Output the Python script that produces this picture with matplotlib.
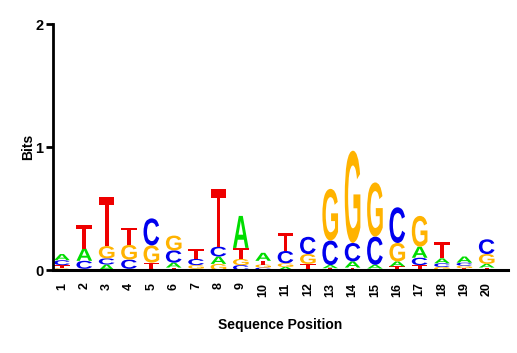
import matplotlib
matplotlib.use("Agg")
import matplotlib.pyplot as plt
from matplotlib.textpath import TextPath
from matplotlib.patches import PathPatch
from matplotlib.font_manager import FontProperties
from matplotlib.transforms import Affine2D

positions = list(range(1, 21))
heights_A = [0.05, 0.10, 0.045, 0.01, 0.01, 0.04, 0.01, 0.06, 0.26, 0.065,
             0.025, 0.01, 0.025, 0.05, 0.03, 0.04, 0.09, 0.04, 0.05, 0.03]
heights_C = [0.04, 0.065, 0.05, 0.075, 0.22, 0.10, 0.05, 0.08, 0.04, 0.02,
             0.10, 0.14, 0.20, 0.15, 0.23, 0.29, 0.06, 0.03, 0.025, 0.12]
heights_G = [0.015, 0.01, 0.10, 0.12, 0.14, 0.12, 0.03, 0.05, 0.05, 0.025,
             0.03, 0.08, 0.42, 0.75, 0.44, 0.15, 0.25, 0.025, 0.02, 0.08]
heights_T = [0.025, 0.19, 0.40, 0.14, 0.05, 0.02, 0.08, 0.47, 0.09, 0.03,
             0.15, 0.04, 0.015, 0.02, 0.012, 0.03, 0.04, 0.13, 0.015, 0.02]

colors = {"A": "#00DD00", "C": "#0000EE", "G": "#FFB300", "T": "#EE0000"}
fp = FontProperties(family="Liberation Sans", weight="bold")

fig = plt.figure(figsize=(5.17, 3.53), dpi=100)
ax = fig.add_axes([0.1025, 0.235, 0.88, 0.697])

def draw_letter(ax, letter, x, y0, w, h):
    tp = TextPath((0, 0), letter, size=1, prop=fp)
    bb = tp.get_extents()
    t = (Affine2D().translate(-bb.x0, -bb.y0)
         .scale(w / bb.width, h / bb.height)
         .translate(x - w / 2, y0))
    path = t.transform_path(tp)
    ax.add_patch(PathPatch(path, facecolor=colors[letter], edgecolor="none", lw=0))

width = 0.70
for i, pos in enumerate(positions):
    col = [("A", heights_A[i]), ("C", heights_C[i]), ("G", heights_G[i]), ("T", heights_T[i])]
    col.sort(key=lambda p: p[1])
    y = 0.0
    for letter, h in col:
        if h > 0:
            draw_letter(ax, letter, pos, y, width, h)
        y += h

ax.set_xlim(0.6, 20.95)
ax.set_ylim(0, 2)
ax.set_yticks([0, 1, 2])
ax.set_yticklabels(["0", "1", "2"], fontproperties=FontProperties(family="Liberation Sans", weight="bold", size=10.5))
ax.set_xticks(positions)
ax.set_xticklabels([str(p) for p in positions], rotation=90,
                   fontproperties=FontProperties(family="Liberation Sans", weight="bold", size=9))
ax.tick_params(axis="x", length=0, pad=9)
ax.tick_params(axis="y", length=5, width=2, pad=2)
for s in ["top", "right"]:
    ax.spines[s].set_visible(False)
ax.spines["left"].set_linewidth(2)
ax.spines["bottom"].set_linewidth(2.2)
ax.set_xlabel("Sequence Position", fontproperties=FontProperties(family="Liberation Sans", weight="bold", size=10), labelpad=15)
ax.set_ylabel("Bits", fontproperties=FontProperties(family="Liberation Sans", weight="bold", size=10), labelpad=0)

fig.savefig("out.png", dpi=100)
